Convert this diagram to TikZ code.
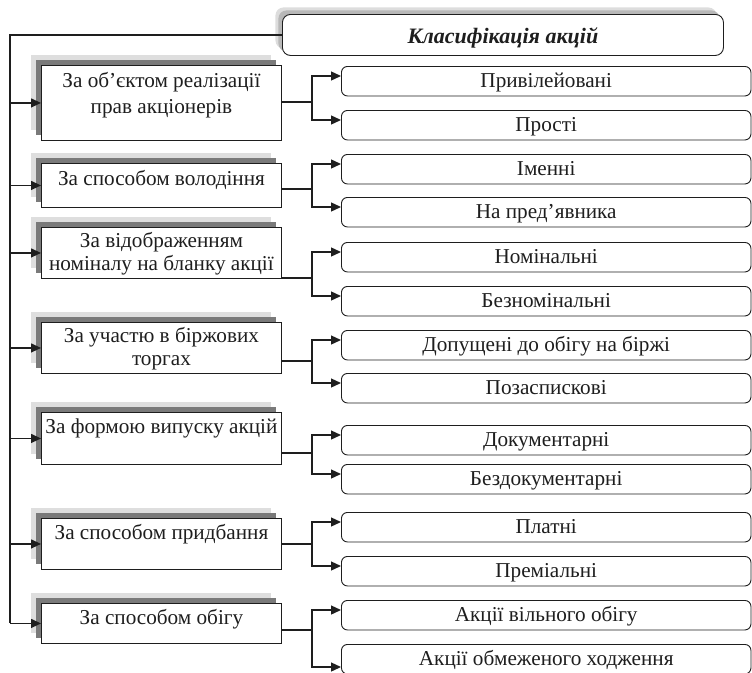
\documentclass[tikz,border=0pt]{standalone}
\usepackage{fontspec}
\setmainfont{Liberation Serif}
\usetikzlibrary{arrows.meta,shadows}
\definecolor{shdark}{HTML}{7A7A7A}
\definecolor{shlight}{HTML}{DEDEDE}
\definecolor{tshdark}{HTML}{B8B8B8}
\definecolor{tshlight}{HTML}{DDDDDD}
\definecolor{ink}{HTML}{1E1E1E}
\newcommand\mytwolines[3]{\fontsize{21.2}{#3}\selectfont\begin{tabular}[t]{@{}c@{}}#1\\#2\end{tabular}}
\begin{document}
\begin{tikzpicture}[x=1pt,y=-1pt,
  txt/.style={font=\fontsize{21.2}{25}\selectfont, text=ink},
  lbox/.style={txt, draw=ink, fill=white, line width=0.9pt, inner xsep=0pt, inner ysep=0pt,
    minimum width=240pt, anchor=north west,
    general shadow={shadow xshift=-10pt, shadow yshift=10pt, fill=shlight, draw=none},
    general shadow={shadow xshift=-5pt, shadow yshift=5pt, fill=shdark, draw=none}},
  rbox/.style={txt, draw=ink, fill=white, line width=0.9pt, rounded corners=6pt,
    inner xsep=0pt, inner ysep=0pt, minimum width=409.5pt, anchor=north west,
    text height=21.5pt, text depth=8pt},
  titlebox/.style={draw=ink, fill=white, line width=0.9pt, rounded corners=8pt,
    font=\fontsize{22}{26}\selectfont, text=ink,
    inner xsep=0pt, inner ysep=0pt, minimum width=441pt, anchor=north west,
    text height=29pt, text depth=12pt,
    general shadow={shadow xshift=-7pt, shadow yshift=7pt, fill=tshlight, draw=none},
    general shadow={shadow xshift=-4pt, shadow yshift=4pt, fill=tshdark, draw=none}},
  conn/.style={draw=ink, line width=1.3pt},
  arr/.style={conn, -{Triangle[length=10pt,width=9pt]}}]
\useasboundingbox (0,0) rectangle (752,672);
\clip (0,0) rectangle (752,672);

\node[titlebox] (T) at (282,14) {\bfseries\itshape Класифікація акцій};

\node[lbox, text height=22pt, text depth=53pt] (b1) at (41,65)
  {\mytwolines{За об’єктом реалізації}{прав акціонерів}{26}};
\node[lbox, text height=22pt, text depth=22pt] (b2) at (41,163) {За способом володіння};
\node[lbox, text height=20pt, text depth=31pt] (b3) at (41,227)
  {\mytwolines{За відображенням}{номіналу на бланку акції}{23}};
\node[lbox, text height=20pt, text depth=31pt] (b4) at (41,322)
  {\mytwolines{За участю в біржових}{торгах}{23}};
\node[lbox, text height=21pt, text depth=31pt] (b5) at (41,412) {За формою випуску акцій};
\node[lbox, text height=21pt, text depth=30pt] (b6) at (41,518) {За способом придбання};
\node[lbox, text height=21pt, text depth=19pt] (b7) at (41,603) {За способом обігу};

\node[rbox] (r1) at (341,66) {Привілейовані};
\node[rbox] (r2) at (341,110) {Прості};
\node[rbox] (r3) at (341,154) {Іменні};
\node[rbox] (r4) at (341,197) {На пред’явника};
\node[rbox] (r5) at (341,242) {Номінальні};
\node[rbox] (r6) at (341,286) {Безномінальні};
\node[rbox] (r7) at (341,330) {Допущені до обігу на біржі};
\node[rbox] (r8) at (341,373) {Позаспискові};
\node[rbox] (r9) at (341,425) {Документарні};
\node[rbox] (r10) at (341,464) {Бездокументарні};
\node[rbox] (r11) at (341,512) {Платні};
\node[rbox] (r12) at (341,556) {Преміальні};
\node[rbox] (r13) at (341,600) {Акції вільного обігу};
\node[rbox] (r14) at (341,644) {Акції обмеженого ходження};

\coordinate (tb) at (10,623);
\draw[conn] (T.west) -| (tb);
\foreach \i in {1,...,7} \draw[arr] (tb |- b\i.west) -- (b\i.west);

\coordinate (j1) at (312,102);
\coordinate (j2) at (312,189);
\coordinate (j3) at (312,278);
\coordinate (j4) at (312,361);
\coordinate (j5) at (312,453);
\coordinate (j6) at (312,544);
\coordinate (j7) at (312,630);

\foreach \i/\a/\b in {1/1/2, 2/3/4, 3/5/6, 4/7/8, 5/9/10, 6/11/12} {
  \draw[conn] (b\i.east |- j\i) -- (j\i);
  \draw[arr] (j\i) |- ([yshift=-10pt]r\a.north west);
  \draw[arr] (j\i) |- ([yshift=-10pt]r\b.north west);
}
\draw[conn] (b7.east |- j7) -- (j7);
\draw[arr] (j7) |- ([yshift=-10pt]r13.north west);
\draw[arr] (j7) |- ([yshift=-23pt]r14.north west);
\end{tikzpicture}
\end{document}
